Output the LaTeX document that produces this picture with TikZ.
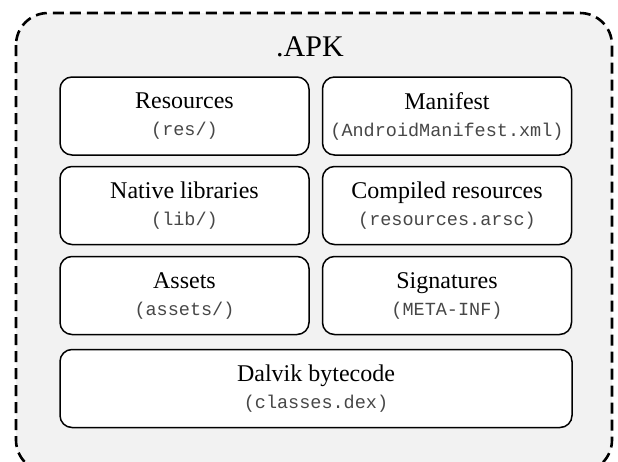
\documentclass[tikz,border=0pt]{standalone}
\usepackage{fontspec}
\setmainfont{Liberation Serif}
\setmonofont{Liberation Mono}
\newcommand\filepath[1]{{\fontsize{18.5}{27}\ttfamily\color{black!72}#1}}
\begin{document}
\begin{tikzpicture}[x=1pt, y=-1pt,
        part/.style = {draw, line width=1.5pt, rounded corners=12pt, fill=white,
            minimum width=249pt, minimum height=78pt, inner sep=0pt, align=center,
            font=\fontsize{24}{27}\selectfont},
        wide/.style = {part, minimum width=512pt},
        apkbox/.style = {draw, dashed, dash pattern=on 11pt off 6pt, line width=2.6pt,
            rounded corners=32pt, fill=black!5}
        ]
    \useasboundingbox (0,0) rectangle (618,461);
    \clip (0,0) rectangle (618,461);
    \draw[apkbox] (16,13) rectangle (612,472);
    \node[font=\fontsize{30}{34}\selectfont, inner sep=0pt] (apk) at (310,47) {.APK};
    % left column
    \node[part] (res) at (184.5,116) {Resources\\\filepath{(res/)}};
    \node[part] (lib) at (184.5,205.5) {Native libraries\\\filepath{(lib/)}};
    \node[part] (assets) at (184.5,295.5) {Assets\\\filepath{(assets/)}};
    % right column
    \node[part] (manifest) at (447,116) {Manifest\\\filepath{(AndroidManifest.xml)}};
    \node[part] (arsc) at (447,205.5) {Compiled resources\\\filepath{(resources.arsc)}};
    \node[part] (meta) at (447,295.5) {Signatures\\\filepath{(META-INF)}};
    \node[wide] (dex) at (316,388.5) {Dalvik bytecode\\\filepath{(classes.dex)}};
\end{tikzpicture}
\end{document}
